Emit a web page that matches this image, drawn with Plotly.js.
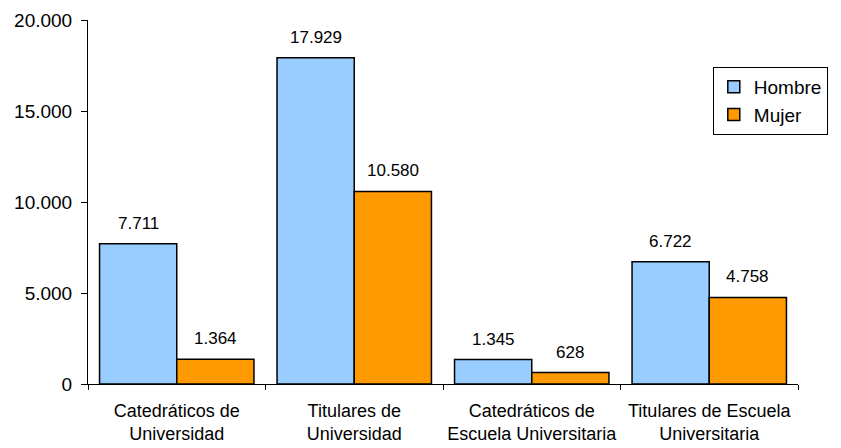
<!DOCTYPE html>
<html>
<head>
<meta charset="utf-8">
<script src="https://cdn.plot.ly/plotly-3.0.1.min.js"></script>
<style>html,body{margin:0;padding:0;background:#fff;}#chart{width:841px;height:448px;}</style>
</head>
<body>
<div id="chart"></div>
<script>
var categories = [
  "Catedráticos de<br>Universidad",
  "Titulares de<br>Universidad",
  "Catedráticos de<br>Escuela Universitaria",
  "Titulares de Escuela<br>Universitaria"
];
var hombre = [7711, 17929, 1345, 6722];
var mujer = [1364, 10580, 628, 4758];
var seriesNames = ["Hombre", "Mujer"];
var yTickVals = [0, 5000, 10000, 15000, 20000];

function fmt(v) {
  return String(v).replace(/\B(?=(\d{3})+(?!\d))/g, ".");
}

var font = "Liberation Sans, Arial, sans-serif";

var traces = [
  {type: "bar", name: seriesNames[0], x: categories, y: hombre,
   marker: {color: "#99CCFF", line: {color: "#000", width: 1.5}}, hoverinfo: "none"},
  {type: "bar", name: seriesNames[1], x: categories, y: mujer,
   marker: {color: "#FF9900", line: {color: "#000", width: 1.5}}, hoverinfo: "none"}
];

var annotations = [];
var series = [hombre, mujer];
var shifts = [-38.6, 38.6];
for (var s = 0; s < series.length; s++) {
  for (var i = 0; i < categories.length; i++) {
    annotations.push({
      x: categories[i], y: series[s][i], xref: "x", yref: "y",
      text: fmt(series[s][i]), showarrow: false,
      xshift: shifts[s], yshift: 9, yanchor: "bottom",
      font: {family: font, size: 17, color: "#000"}
    });
  }
}

var layout = {
  width: 841, height: 448,
  margin: {l: 88, r: 43, t: 20, b: 64, pad: 0, autoexpand: false},
  paper_bgcolor: "#fff", plot_bgcolor: "#fff",
  separators: ",.",
  barmode: "group", bargap: 0.13, bargroupgap: 0,
  font: {family: font, color: "#000"},
  showlegend: true,
  legend: {
    x: 0.880, y: 0.871, xanchor: "left", yanchor: "top",
    bordercolor: "#000", borderwidth: 1, bgcolor: "#fff",
    font: {family: font, size: 19, color: "#000"},
    tracegroupgap: 0, itemwidth: 30
  },
  xaxis: {
    type: "category", showline: true, linecolor: "#000", linewidth: 1,
    ticks: "outside", tickson: "boundaries", ticklen: 5, tickcolor: "#000",
    showgrid: false, zeroline: false, tickangle: 0, automargin: false,
    ticklabelstandoff: 10,
    tickfont: {family: font, size: 18, color: "#000"}
  },
  yaxis: {
    range: [0, 20000], tickvals: yTickVals, tickformat: ",d",
    showline: true, linecolor: "#000", linewidth: 1,
    ticks: "outside", ticklen: 6, tickcolor: "#000",
    showgrid: false, zeroline: false, automargin: false,
    ticklabelstandoff: 5,
    tickfont: {family: font, size: 19, color: "#000"}
  },
  annotations: annotations
};

Plotly.newPlot("chart", traces, layout, {displayModeBar: false, staticPlot: true});
</script>
</body>
</html>
